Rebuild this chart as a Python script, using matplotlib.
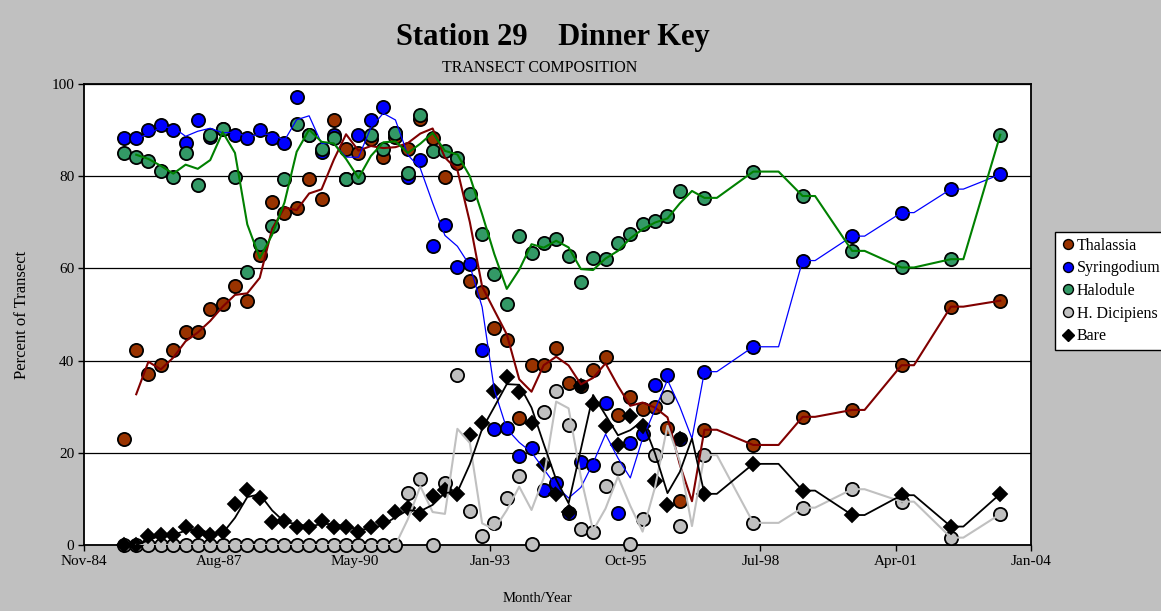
import numpy as np
import pandas as pd
import matplotlib
matplotlib.use("Agg")
import matplotlib.pyplot as plt
from matplotlib.lines import Line2D

plt.rcParams['font.family'] = ['Liberation Serif', 'DejaVu Serif']

nan = np.nan

# sampling dates (quarterly, then yearly); empty rows carry no values
dates = [
    "1985-09-05", "1985-12-05", "1986-03-05", "1986-06-05", "1986-09-05", "1986-12-05",
    "1987-03-05", "1987-06-05", "1987-09-05", "1987-12-05", "1988-03-05", "1988-06-05",
    "1988-09-05", "1988-12-05", "1989-03-05", "1989-06-05", "1989-09-05", "1989-12-05",
    "1990-03-05", "1990-06-05", "1990-09-05", "1990-12-05", "1991-03-05", "1991-06-05",
    "1991-09-05", "1991-12-05", "1992-03-05", "1992-06-05", "1992-09-05", "1992-12-05",
    "1993-03-05", "1993-06-05", "1993-09-05", "1993-12-05", "1994-03-05", "1994-06-05",
    "1994-09-05", "1994-12-05", "1995-03-05", "1995-06-05", "1995-09-05", "1995-12-05",
    "1996-03-05", "1996-06-05", "1996-09-05", "1996-12-05", "1997-03-05", "1997-06-05",
    "1997-09-05", "1998-06-01", "1998-12-05", "1999-06-01", "1999-09-01", "2000-06-01",
    "2000-09-01", "2001-06-01", "2001-09-01", "2002-06-01", "2002-09-01", "2003-06-01",
]

thalassia = [
    23.1, 42.3, 37.2, 39.0, 42.3, 46.1, 46.1, 51.1, 52.3, 56.2,
    53.0, 62.9, 74.3, 72.1, 73.2, 79.3, 75.0, 92.2, 86.0, 85.1,
    88.0, 84.2, 88.4, 86.0, 92.5, 88.2, 79.9, 82.8, 57.3, 54.8,
    47.0, 44.4, 27.5, 39.0, 39.0, 42.7, 35.2, 34.5, 38.0, 40.8,
    28.2, 32.2, 29.6, 30.0, 25.4, 9.5, nan, 25.0, nan, 21.7,
    nan, 27.8, nan, 29.3, nan, 39.0, nan, 51.7, nan, 53.0,
]
syringodium = [
    88.2, 88.2, 90.0, 91.2, 90.0, 87.3, 92.2, 88.6, 90.2, 88.9,
    88.2, 90.0, 88.2, 87.3, 97.2, 89.0, 85.2, 89.0, 79.3, 88.9,
    92.2, 95.1, 89.3, 79.9, 83.5, 64.9, 69.4, 60.2, 61.0, 42.2,
    25.1, 25.3, 19.2, 21.0, 12.0, 13.5, 6.9, 18.1, 17.4, 30.7,
    7.0, 22.1, 24.1, 34.7, 36.9, 23.1, nan, 37.6, nan, 43.0,
    nan, 61.7, nan, 67.0, nan, 72.1, nan, 77.2, nan, 80.4,
]
halodule = [
    85.1, 84.2, 83.3, 81.2, 79.9, 85.1, 78.1, 88.9, 90.2, 79.9,
    59.2, 65.3, 69.3, 79.3, 91.3, 88.9, 86.0, 88.2, 79.3, 79.9,
    88.9, 85.8, 89.3, 80.8, 93.3, 85.5, 85.5, 83.9, 76.1, 67.4,
    58.8, 52.3, 67.1, 63.4, 65.6, 66.4, 62.7, 57.0, 62.3, 62.0,
    65.6, 67.4, 69.6, 70.3, 71.4, 76.8, nan, 75.3, nan, 81.0,
    nan, 75.7, nan, 63.8, nan, 60.2, nan, 62.0, nan, 89.0,
]
dicipiens = [
    0, 0, 0, 0, 0, 0, 0, 0, 0, 0,
    0, 0, 0, 0, 0, 0, 0, 0, 0, 0,
    0, 0, 0, 11.2, 14.3, 0, 13.5, 36.9, 7.4, 2.0,
    4.8, 10.3, 15.0, 0.2, 28.9, 33.3, 26.0, 3.4, 2.9, 12.9,
    16.8, 0.2, 5.6, 19.5, 32.2, 4.1, nan, 19.5, nan, 4.8,
    nan, 8.1, nan, 12.1, nan, 9.4, nan, 1.6, nan, 6.7,
]
bare = [
    0, 0, 2.0, 2.2, 2.2, 4.0, 2.9, 2.2, 2.9, 8.9,
    11.9, 10.1, 4.9, 5.1, 4.0, 4.0, 5.1, 4.0, 4.0, 2.8,
    4.0, 4.9, 7.1, 8.0, 6.7, 10.7, 11.9, 11.1, 23.9, 26.5,
    33.4, 36.4, 33.1, 26.5, 17.4, 11.0, 7.1, 34.5, 30.6, 25.8,
    21.8, 28.0, 25.8, 13.9, 8.6, 23.1, nan, 11.1, nan, 17.6,
    nan, 11.8, nan, 6.5, nan, 10.8, nan, 4.0, nan, 11.1,
]

names = ["Thalassia", "Syringodium", "Halodule", "H. Dicipiens", "Bare"]
values = [thalassia, syringodium, halodule, dicipiens, bare]
fills = ["#993300", "#0000ff", "#339966", "#c0c0c0", "black"]
lines = ["#800000", "#0000ff", "#008000", "#c0c0c0", "black"]
widths = [1.5, 0.9, 1.5, 1.5, 1.3]
markers = ["o", "o", "o", "o", "D"]
sizes = [9.5, 9.5, 9.5, 9.5, 7.5]

# Excel serial day numbers for the date axis
tick_serials = [31000, 32000, 33000, 34000, 35000, 36000, 37000, 38000]
tick_labels = ["Nov-84", "Aug-87", "May-90", "Jan-93", "Oct-95", "Jul-98", "Apr-01", "Jan-04"]
ticks = pd.to_datetime(tick_serials, unit="D", origin="1899-12-30")

W, H = 1161, 611
fig = plt.figure(figsize=(W / 100, H / 100), dpi=100, facecolor="#c0c0c0")
ax = fig.add_axes([84 / W, 1 - 545 / H, (1031 - 84) / W, (545 - 84) / H])
ax.set_facecolor("white")

x = pd.to_datetime(dates)
handles = []
for name, vals, fc, lc, lw, mk, ms in zip(names, values, fills, lines, widths, markers, sizes):
    y = pd.Series(vals, dtype=float)
    ok = y.notna().values
    ax.plot(x[ok], y[ok], ls="none", marker=mk, ms=ms, mfc=fc, mec="black",
            mew=1.3, zorder=3, clip_on=False)
    # two-period moving average, blanks skipped
    avg = y.rolling(2, min_periods=1).mean()
    ax.plot(x[1:], avg.values[1:], color=lc, lw=lw, zorder=4)
    handles.append(Line2D([], [], ls="none", marker=mk, ms=ms * 0.75, mfc=fc,
                          mec="black", mew=1.0, label=name))

ax.set_xlim(ticks[0], ticks[-1])
ax.set_ylim(0, 100)
ax.set_xticks(ticks)
ax.set_xticklabels(tick_labels, fontsize=11)
ax.set_yticks([0, 20, 40, 60, 80, 100])
ax.set_yticklabels(["0", "20", "40", "60", "80", "100"], fontsize=11)
ax.tick_params(axis="both", direction="out", length=4, width=1, color="black", pad=3)
ax.grid(axis="y", color="black", lw=0.9)
ax.set_axisbelow(True)
for s in ax.spines.values():
    s.set_color("black")
    s.set_linewidth(1.3)

fig.text(553 / W, 1 - 38 / H, "Station 29    Dinner Key", ha="center", va="center",
         fontsize=22, fontweight="bold")
fig.text(540 / W, 1 - 68 / H, "TRANSECT COMPOSITION", ha="center", va="center", fontsize=11.5)
fig.text(22 / W, 1 - 315 / H, "Percent of Transect", ha="center", va="center",
         rotation=90, fontsize=12)
fig.text(537 / W, 1 - 598 / H, "Month/Year", ha="center", va="center", fontsize=10.5)

leg = fig.legend(handles=handles, loc="upper left", bbox_to_anchor=(1055 / W, 1 - 232 / H),
                 frameon=True, fancybox=False, edgecolor="black", facecolor="white",
                 framealpha=1, fontsize=11.5, handletextpad=0.1, handlelength=0.9,
                 labelspacing=0.42, borderpad=0.35, borderaxespad=0)
leg.get_frame().set_linewidth(1.0)

fig.savefig("out.png", dpi=100, facecolor=fig.get_facecolor())
